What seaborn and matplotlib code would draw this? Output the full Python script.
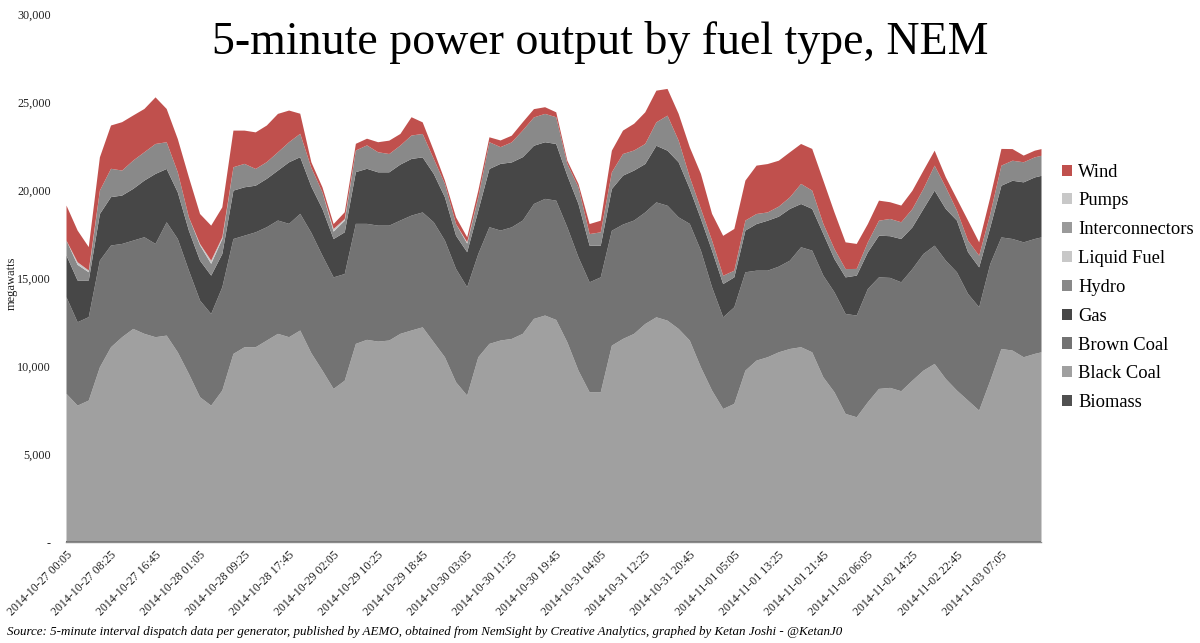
import numpy as np
import pandas as pd
import seaborn as sns
import matplotlib.pyplot as plt
from matplotlib.patches import Patch

# position of each sample, counted in 5-minute intervals from 2014-10-27 00:05
interval = list(range(0, 2176, 25)) + [2190]

# megawatts per fuel type at each sample
biomass = [60, 60, 60, 60, 60, 60, 60, 60, 60, 60, 60, 60, 60, 60, 60, 60, 60, 60, 60, 60,
           60, 60, 60, 60, 60, 60, 60, 60, 60, 60, 60, 60, 60, 60, 60, 60, 60, 60, 60, 60,
           60, 60, 60, 60, 60, 60, 60, 60, 60, 60, 60, 60, 60, 60, 60, 60, 60, 60, 60, 60,
           60, 60, 60, 60, 60, 60, 60, 60, 60, 60, 60, 60, 60, 60, 60, 60, 60, 60, 60, 60,
           60, 60, 60, 60, 60, 60, 60, 60, 60]
black_coal = [8390, 7720, 8010, 9900, 11040, 11610, 12080, 11800, 11610, 11700,
              10750, 9520, 8200, 7720, 8580, 10660, 11040, 11040, 11420, 11800,
              11610, 11990, 10700, 9710, 8670, 9140, 11230, 11460, 11360, 11420,
              11800, 11990, 12170, 11320, 10470, 9050, 8290, 10470, 11230, 11420,
              11510, 11800, 12650, 12840, 12590, 11320, 9710, 8480, 8480, 11130,
              11510, 11800, 12360, 12740, 12550, 12080, 11420, 9900, 8580, 7530,
              7820, 9710, 10280, 10470, 10750, 10940, 11040, 10750, 9330, 8480,
              7250, 7060, 7910, 8670, 8730, 8540, 9140, 9710, 10090, 9240,
              8580, 8010, 7440, 9140, 10940, 10850, 10470, 10660, 10750]
brown_coal = [5490, 4740, 4740, 6060, 5780, 5300, 5020, 5490, 5300, 6440,
              6440, 5870, 5490, 5210, 5870, 6530, 6340, 6530, 6440, 6440,
              6440, 6630, 6840, 6530, 6340, 6060, 6820, 6590, 6590, 6530,
              6440, 6530, 6530, 6820, 6630, 6440, 6160, 5870, 6630, 6250,
              6340, 6440, 6530, 6630, 6780, 6530, 6440, 6250, 6530, 6530,
              6500, 6440, 6340, 6530, 6530, 6340, 6630, 6630, 5870, 5210,
              5490, 5590, 5110, 4920, 4870, 5020, 5680, 5780, 5780, 5680,
              5680, 5780, 6440, 6340, 6250, 6190, 6340, 6630, 6720, 6720,
              6720, 6060, 5870, 6630, 6340, 6340, 6530, 6530, 6530]
gas = [2370, 2370, 2080, 2650, 2750, 2750, 2940, 3220, 3980, 3030,
       2650, 2270, 2270, 2180, 1890, 2750, 2750, 2650, 2750, 2840,
       3500, 3220, 2630, 2650, 2180, 2370, 2940, 3130, 3030, 3030,
       3180, 3220, 3130, 2750, 2460, 1890, 1990, 2460, 3310, 3790,
       3690, 3600, 3310, 3220, 3220, 2940, 3030, 2080, 1800, 2370,
       2780, 2840, 2750, 3220, 3130, 3130, 1990, 1800, 2080, 1890,
       1700, 2370, 2650, 2840, 2840, 2940, 2460, 2370, 2370, 1890,
       2080, 2270, 2080, 2370, 2370, 2460, 2370, 2560, 3130, 2940,
       2940, 2370, 2270, 2080, 2940, 3310, 3410, 3500, 3500]
hydro = [850, 890, 470, 1330, 1610, 1420, 1610, 1610, 1700, 1520,
         1140, 760, 870, 670, 850, 1330, 1330, 950, 950, 1040,
         1140, 1330, 1060, 950, 420, 660, 1230, 1330, 1140, 1040,
         1080, 1330, 1330, 850, 760, 660, 490, 760, 1520, 950,
         1140, 1520, 1610, 1610, 1520, 660, 950, 660, 760, 950,
         1230, 1140, 1140, 1330, 1990, 1230, 660, 570, 570, 470,
         380, 570, 570, 470, 570, 660, 1140, 1040, 570, 570,
         470, 380, 570, 850, 980, 950, 1040, 1140, 1420, 1230,
         570, 660, 660, 760, 1140, 1140, 1140, 1140, 1140]
liquid_fuel = [0, 0, 0, 0, 0, 0, 0, 0, 0, 0, 0, 0, 0, 0, 0, 0, 0, 0, 0, 0,
               0, 0, 0, 0, 0, 0, 0, 0, 0, 0, 0, 0, 0, 0, 0, 0, 0, 0, 0, 0,
               0, 0, 0, 0, 0, 0, 0, 0, 0, 0, 0, 0, 0, 0, 0, 0, 0, 0, 0, 0,
               0, 0, 0, 0, 0, 0, 0, 0, 0, 0, 0, 0, 0, 0, 0, 0, 0, 0, 0, 0,
               0, 0, 0, 0, 0, 0, 0, 0, 0]
interconnectors = [0, 0, 0, 0, 0, 0, 0, 0, 0, 0, 0, 0, 0, 0, 0, 0, 0, 0, 0, 0,
                   0, 0, 0, 0, 0, 0, 0, 0, 0, 0, 0, 0, 0, 0, 0, 0, 0, 0, 0, 0,
                   0, 0, 0, 0, 0, 0, 0, 0, 0, 0, 0, 0, 0, 0, 0, 0, 0, 0, 0, 0,
                   0, 0, 0, 0, 0, 0, 0, 0, 0, 0, 0, 0, 0, 0, 0, 0, 0, 0, 0, 0,
                   0, 0, 0, 0, 0, 0, 0, 0, 0]
pumps = [0, 150, 100, 0, 0, 0, 0, 0, 0, 0, 0, 0, 80, 180, 100, 0, 0, 0, 0, 0,
         0, 0, 0, 0, 150, 100, 0, 0, 0, 0, 0, 0, 0, 0, 0, 0, 80, 0, 0, 0,
         0, 0, 0, 0, 0, 0, 0, 0, 0, 0, 0, 0, 0, 0, 0, 0, 0, 0, 0, 0,
         0, 0, 0, 0, 0, 0, 0, 0, 0, 0, 0, 0, 0, 0, 0, 0, 0, 0, 0, 0,
         0, 0, 0, 0, 0, 0, 0, 0, 0]
wind = [1990, 1800, 1330, 1890, 2460, 2750, 2560, 2460, 2650, 1890,
        1890, 2270, 1700, 1990, 1700, 2080, 1890, 2080, 2080, 2180,
        1800, 1140, 320, 280, 280, 380, 380, 380, 570, 760,
        660, 1040, 660, 470, 190, 380, 280, 380, 280, 380,
        380, 470, 470, 380, 280, 190, 190, 570, 660, 1230,
        1330, 1520, 1800, 1800, 1520, 1520, 1700, 1990, 1520, 2270,
        2370, 2270, 2750, 2750, 2610, 2560, 2270, 2370, 2460, 2080,
        1520, 1420, 1040, 1140, 950, 950, 1040, 1040, 850, 570,
        660, 1140, 760, 950, 950, 660, 380, 380, 380]

fuel_names = ["Biomass", "Black Coal", "Brown Coal", "Gas", "Hydro",
              "Liquid Fuel", "Interconnectors", "Pumps", "Wind"]
fuel_colors = ["#505050", "#a0a0a0", "#737373", "#474747", "#898989",
               "#c8c8c8", "#9a9a9a", "#c8c8c8", "#c0504d"]

tick_pos = [0, 100, 200, 300, 400, 500, 600, 700, 800, 900, 1000,
            1100, 1200, 1300, 1400, 1500, 1600, 1700, 1800, 1900, 2000, 2100]
tick_labels = ["2014-10-27 00:05", "2014-10-27 08:25", "2014-10-27 16:45",
               "2014-10-28 01:05", "2014-10-28 09:25", "2014-10-28 17:45",
               "2014-10-29 02:05", "2014-10-29 10:25", "2014-10-29 18:45",
               "2014-10-30 03:05", "2014-10-30 11:25", "2014-10-30 19:45",
               "2014-10-31 04:05", "2014-10-31 12:25", "2014-10-31 20:45",
               "2014-11-01 05:05", "2014-11-01 13:25", "2014-11-01 21:45",
               "2014-11-02 06:05", "2014-11-02 14:25", "2014-11-02 22:45",
               "2014-11-03 07:05"]
y_ticks = [0, 5000, 10000, 15000, 20000, 25000, 30000]
y_labels = ["-", "5,000", "10,000", "15,000", "20,000", "25,000", "30,000"]

df = pd.DataFrame({"interval": interval, "Biomass": biomass, "Black Coal": black_coal,
                   "Brown Coal": brown_coal, "Gas": gas, "Hydro": hydro,
                   "Liquid Fuel": liquid_fuel, "Interconnectors": interconnectors,
                   "Pumps": pumps, "Wind": wind})

sns.set_style("white")
plt.rcParams["font.family"] = ["Liberation Serif", "DejaVu Serif"]
plt.rcParams["text.color"] = "black"

fig = plt.figure(figsize=(12, 6.43), dpi=100)
ax = fig.add_axes([0.055, 0.157, 0.8125, 0.821])

ax.stackplot(df["interval"], [df[n] for n in fuel_names], colors=fuel_colors,
             labels=fuel_names, linewidth=0)

ax.set_xlim(0, 2190)
ax.set_ylim(0, 30000)
ax.set_yticks(y_ticks)
ax.set_yticklabels(y_labels, fontsize=8.7, color="#222222")
ax.set_xticks(tick_pos)
ax.set_xticklabels(tick_labels, rotation=45, ha="right", rotation_mode="anchor",
                   fontsize=8.6, color="#222222")
ax.tick_params(axis="y", length=0, pad=11)
ax.tick_params(axis="x", length=0, pad=5)
sns.despine(ax=ax, left=True, top=True, right=True)
ax.spines["bottom"].set_color("#8c8c8c")
ax.spines["bottom"].set_linewidth(1.0)

handles = [Patch(facecolor=c, edgecolor="none") for c in fuel_colors]
fig.legend(handles[::-1], fuel_names[::-1], loc="upper left",
           bbox_to_anchor=(1045 / 1200, 1 - 147 / 643), frameon=False,
           fontsize=13.3, handlelength=0.55, handleheight=0.55,
           handletextpad=0.35, labelspacing=0.64)

fig.text(0.5, 1 - 42 / 643, "5-minute power output by fuel type, NEM",
         fontsize=33, ha="center", va="center", color="black")
fig.text(12 / 1200, 1 - 283 / 643, "megawatts", rotation=90, fontsize=9,
         ha="center", va="center", color="#222222")
fig.text(7 / 1200, 1 - 632 / 643,
         "Source: 5-minute interval dispatch data per generator, published by AEMO, "
         "obtained from NemSight by Creative Analytics, graphed by Ketan Joshi - @KetanJ0",
         fontsize=9.4, style="italic", ha="left", va="center", color="black")

fig.savefig("out.png", dpi=100)
